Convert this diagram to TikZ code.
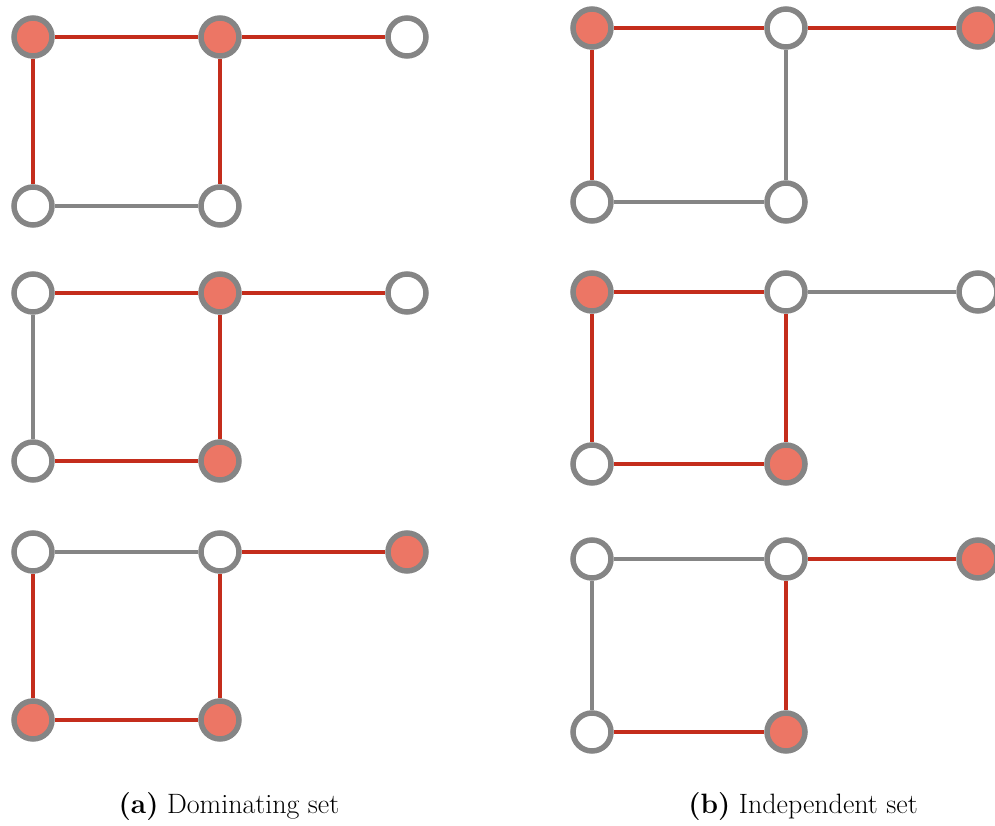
\documentclass[tikz,border=0pt]{standalone}
\usepackage{amsmath,amssymb}

\definecolor{edgegray}{RGB}{133,133,133}
\definecolor{edgered}{RGB}{196,45,28}
\definecolor{vertfill}{RGB}{236,118,101}

\begin{document}
\begin{tikzpicture}[
    x=1pt, y=-1pt,
    vertex/.style={circle, draw=edgegray, line width=5.5pt, minimum size=38pt, inner sep=0pt, fill=white},
    chosen/.style={vertex, fill=vertfill},
    plain/.style={draw=edgegray, line width=4.5pt},
    picked/.style={draw=edgered, line width=4.5pt},
    caption/.style={font=\fontsize{28}{32}\selectfont, anchor=base}]

\useasboundingbox (0,0) rectangle (995,826);

% Dominating set, first
\node[chosen] (a1tl) at (33,37) {};
\node[chosen] (a1tm) at (220,37) {};
\node[vertex] (a1tr) at (407,37) {};
\node[vertex] (a1bl) at (33,206) {};
\node[vertex] (a1bm) at (220,206) {};
\draw[picked] (a1tl) -- (a1tm);
\draw[picked] (a1tm) -- (a1tr);
\draw[picked] (a1tl) -- (a1bl);
\draw[picked] (a1tm) -- (a1bm);
\draw[plain] (a1bl) -- (a1bm);

% Dominating set, second
\node[vertex] (a2tl) at (33,293) {};
\node[chosen] (a2tm) at (220,293) {};
\node[vertex] (a2tr) at (407,293) {};
\node[vertex] (a2bl) at (33,461) {};
\node[chosen] (a2bm) at (220,461) {};
\draw[picked] (a2tl) -- (a2tm);
\draw[picked] (a2tm) -- (a2tr);
\draw[plain] (a2tl) -- (a2bl);
\draw[picked] (a2tm) -- (a2bm);
\draw[picked] (a2bl) -- (a2bm);

% Dominating set, third
\node[vertex] (a3tl) at (33,552) {};
\node[vertex] (a3tm) at (220,552) {};
\node[chosen] (a3tr) at (407,552) {};
\node[chosen] (a3bl) at (33,720) {};
\node[chosen] (a3bm) at (220,720) {};
\draw[plain] (a3tl) -- (a3tm);
\draw[picked] (a3tm) -- (a3tr);
\draw[picked] (a3tl) -- (a3bl);
\draw[picked] (a3tm) -- (a3bm);
\draw[picked] (a3bl) -- (a3bm);

% Independent set, first
\node[chosen] (b1tl) at (592,28) {};
\node[vertex] (b1tm) at (786,28) {};
\node[chosen] (b1tr) at (978,28) {};
\node[vertex] (b1bl) at (592,202) {};
\node[vertex] (b1bm) at (786,202) {};
\draw[picked] (b1tl) -- (b1tm);
\draw[picked] (b1tm) -- (b1tr);
\draw[picked] (b1tl) -- (b1bl);
\draw[plain] (b1tm) -- (b1bm);
\draw[plain] (b1bl) -- (b1bm);

% Independent set, second
\node[chosen] (b2tl) at (592,292) {};
\node[vertex] (b2tm) at (786,292) {};
\node[vertex] (b2tr) at (978,292) {};
\node[vertex] (b2bl) at (592,464) {};
\node[chosen] (b2bm) at (786,464) {};
\draw[picked] (b2tl) -- (b2tm);
\draw[plain] (b2tm) -- (b2tr);
\draw[picked] (b2tl) -- (b2bl);
\draw[picked] (b2tm) -- (b2bm);
\draw[picked] (b2bl) -- (b2bm);

% Independent set, third
\node[vertex] (b3tl) at (592,559) {};
\node[vertex] (b3tm) at (786,559) {};
\node[chosen] (b3tr) at (978,559) {};
\node[vertex] (b3bl) at (592,732) {};
\node[chosen] (b3bm) at (786,732) {};
\draw[plain] (b3tl) -- (b3tm);
\draw[picked] (b3tm) -- (b3tr);
\draw[plain] (b3tl) -- (b3bl);
\draw[picked] (b3tm) -- (b3bm);
\draw[picked] (b3bl) -- (b3bm);

% Captions
\node[caption] (capa) at (229,813) {\textbf{(a)} Dominating set};
\node[caption] (capb) at (803,813) {\textbf{(b)} Independent set};

\end{tikzpicture}
\end{document}
